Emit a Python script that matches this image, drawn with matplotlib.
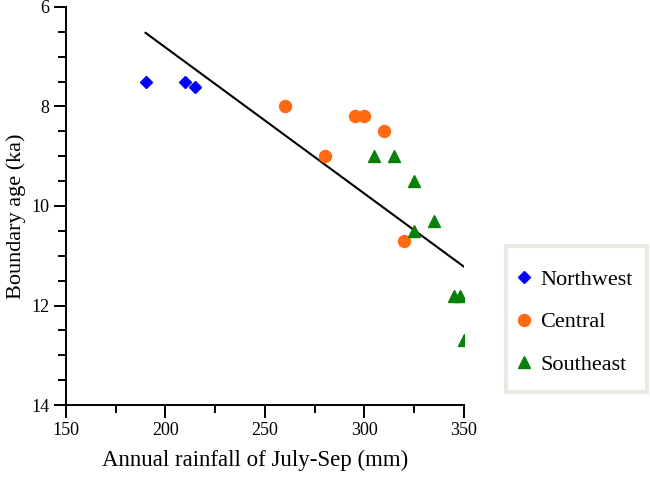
import matplotlib
matplotlib.use("Agg")
import matplotlib.pyplot as plt
from matplotlib.ticker import MultipleLocator
from matplotlib.patches import Rectangle

plt.rcParams['font.family'] = ['Liberation Serif', 'DejaVu Serif']

# rainfall (mm) vs boundary age (ka)
nw_rain = [190, 210, 215]
nw_age = [7.5, 7.5, 7.6]

central_rain = [260, 295, 300, 310, 280, 320]
central_age = [8.0, 8.2, 8.2, 8.5, 9.0, 10.7]

se_rain = [305, 315, 325, 335, 325, 345, 348, 350]
se_age = [9.0, 9.0, 9.5, 10.3, 10.5, 11.8, 11.8, 12.7]

# end points of the fitted line
fit_rain = [190, 351]
fit_age = [6.52, 11.25]

fig = plt.figure(figsize=(6.5, 4.78), dpi=100)
ax = fig.add_axes([0.1015, 0.1527, 0.6123, 0.8327])

ax.plot(fit_rain, fit_age, color='black', linewidth=1.5, zorder=2)
ax.plot(nw_rain, nw_age, linestyle='none', marker='D', markersize=5.8,
        color='#0000ff', label='Northwest', zorder=3)
ax.plot(central_rain, central_age, linestyle='none', marker='o', markersize=8.6,
        color='#ff6a13', label='Central', zorder=3)
ax.plot(se_rain, se_age, linestyle='none', marker='^', markersize=8.6,
        color='#098009', label='Southeast', zorder=3)

ax.set_xlim(150, 350)
ax.set_ylim(14, 6)
ax.xaxis.set_major_locator(MultipleLocator(50))
ax.xaxis.set_minor_locator(MultipleLocator(25))
ax.yaxis.set_major_locator(MultipleLocator(2))
ax.yaxis.set_minor_locator(MultipleLocator(0.5))

for s in ['top', 'right']:
    ax.spines[s].set_visible(False)
for s in ['left', 'bottom']:
    ax.spines[s].set_linewidth(1.4)

ax.tick_params(which='major', direction='out', length=9, width=1.4,
               labelsize=13, pad=3)
ax.tick_params(which='minor', direction='out', length=5.5, width=1.4)

ax.set_xlabel('Annual rainfall of July-Sep (mm)', fontsize=16.5, va='top')
ax.xaxis.set_label_coords(0.475, -0.113)
ax.set_ylabel('Boundary age (ka)', fontsize=16)
ax.yaxis.set_label_coords(-0.1, 0.475)

# legend box
fig.patches.append(Rectangle((0.7785, 0.1790), 0.2165, 0.3065,
                             transform=fig.transFigure, facecolor='white',
                             edgecolor='#e9e9e1', linewidth=3, zorder=0))
fig.legend(loc='upper left', bbox_to_anchor=(0.785, 0.451), frameon=False,
           fontsize=16, handlelength=0.6, handletextpad=0.45,
           labelspacing=1.0, borderpad=0.3, borderaxespad=0)

fig.savefig('out.png', dpi=100)
